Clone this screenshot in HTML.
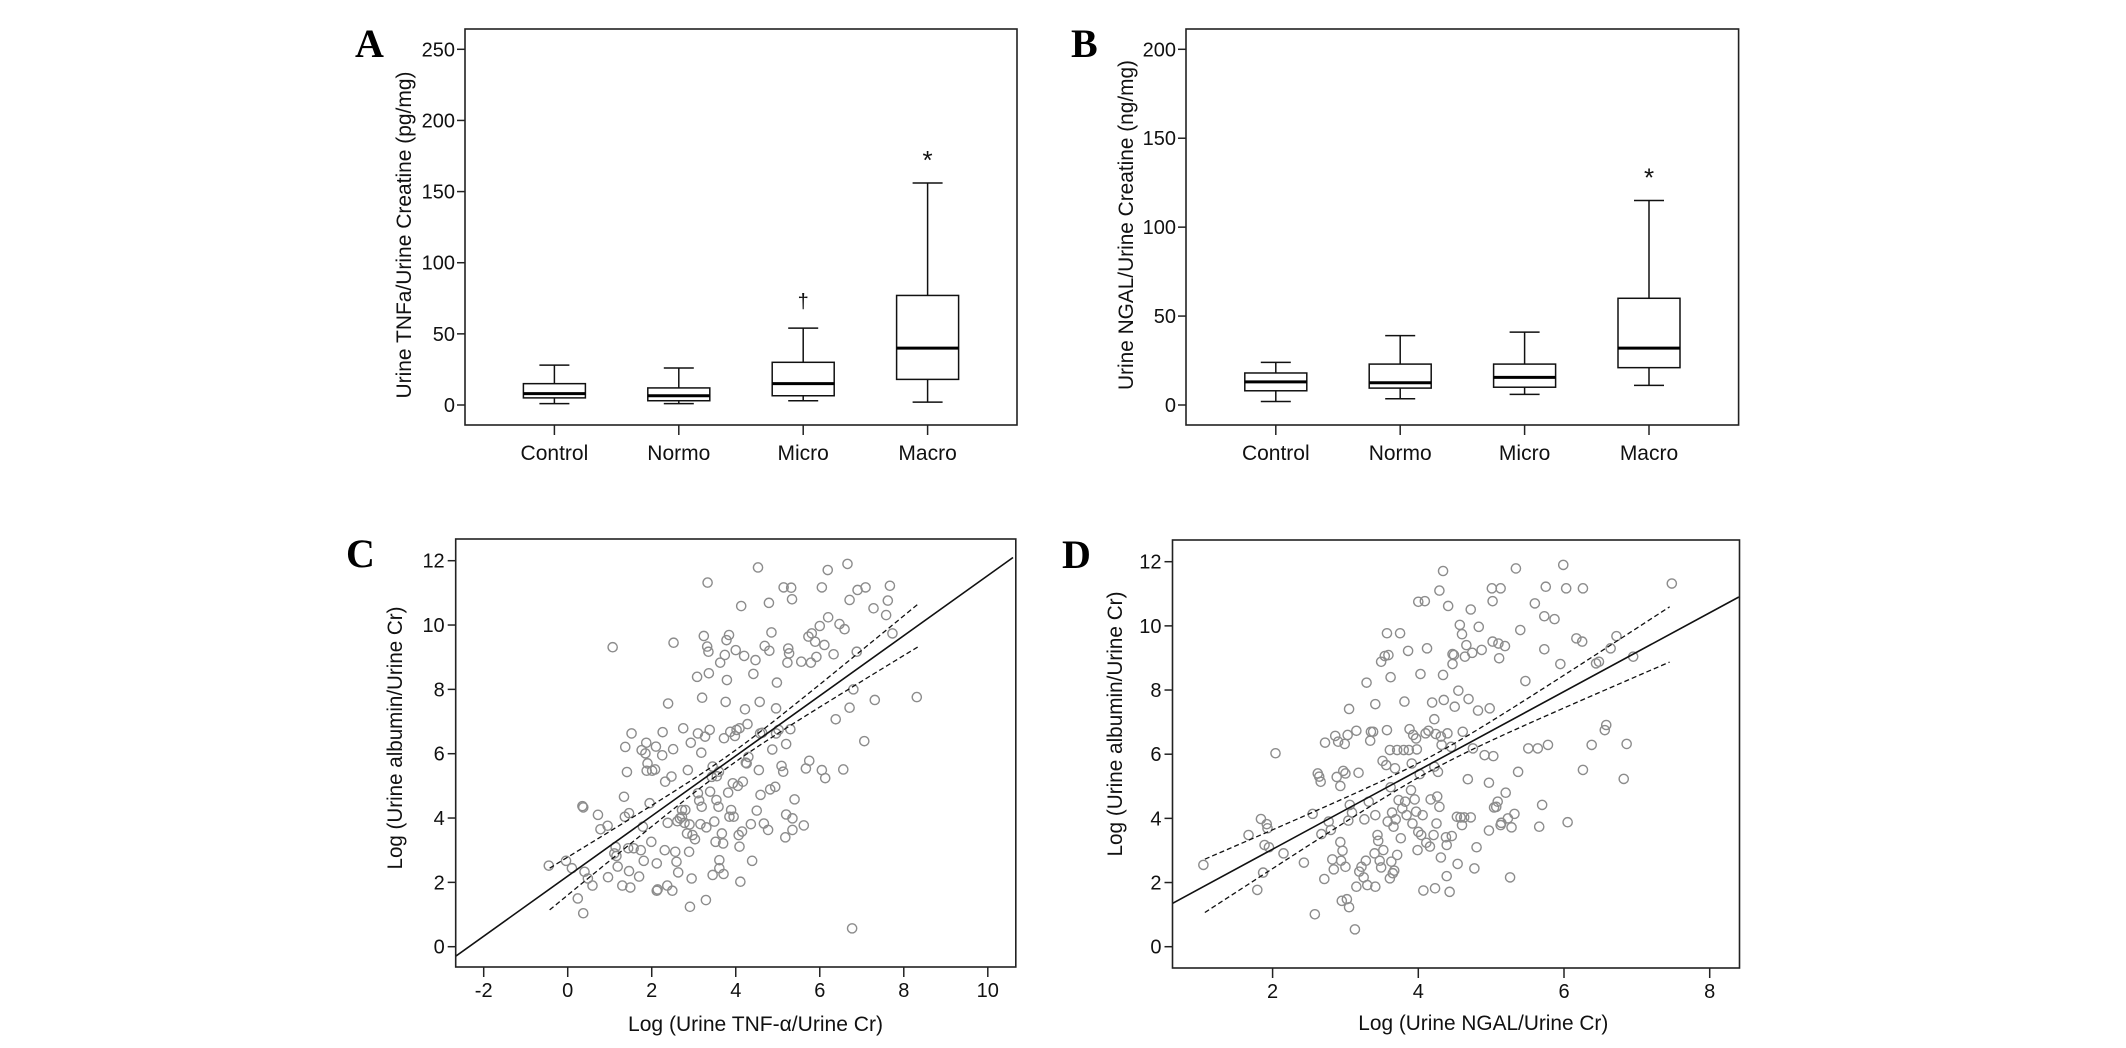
<!DOCTYPE html>
<html><head><meta charset="utf-8"><style>
html,body{margin:0;padding:0;background:#fff;}
svg{display:block;font-family:"Liberation Sans",Arial,sans-serif;}
</style></head><body>
<svg id="fig" width="2126" height="1048" viewBox="0 0 2126 1048" xmlns="http://www.w3.org/2000/svg"></svg>
<script>
// ---------- Data ----------
const boxCategories = ["Control","Normo","Micro","Macro"];
// Panel A: [lowWhisker, Q1, median, Q3, highWhisker]
const aLow = [1, 1, 3, 2];
const aQ1 = [5, 3, 6.5, 18];
const aMed = [8, 6.5, 15, 40];
const aQ3 = [15, 12, 30, 77];
const aHigh = [28, 26, 54, 156];
const aTicks = [0, 50, 100, 150, 200, 250];
// Panel B
const bLow = [2, 3.5, 6, 11];
const bQ1 = [8, 9.5, 10, 21];
const bMed = [13, 12.5, 15.5, 32];
const bQ3 = [18, 23, 23, 60];
const bHigh = [24, 39, 41, 115];
const bTicks = [0, 50, 100, 150, 200];

// Panel C scatter
const cX = [-0.45,-0.04,0.1,0.35,0.37,0.4,0.48,0.24,0.37,0.59,0.72,0.78,0.95,0.96,1.07,1.11,1.16,1.14,1.19,1.3,1.34,1.37,1.41,1.36,1.46,1.44,1.46,1.49,1.52,1.7,1.74,1.76,1.79,1.81,1.87,1.85,1.9,1.88,1.95,1.99,2.01,2.1,2.08,2.12,2.14,2.12,2.25,2.26,2.31,2.32,2.37,2.38,2.39,2.47,2.49,2.52,2.51,2.56,2.59,2.61,2.63,2.72,2.75,2.78,2.8,2.84,2.86,2.89,2.91,2.93,2.95,2.97,3.03,3.08,3.1,3.13,3.16,3.18,3.19,3.2,3.24,3.27,3.29,3.3,3.32,3.35,3.33,3.36,3.39,3.38,3.45,3.49,3.52,3.54,3.59,3.61,3.61,3.63,3.67,3.7,3.71,3.72,3.74,3.76,3.78,3.79,3.82,3.84,3.85,3.87,3.89,3.93,3.95,4.0,4.02,4.07,4.09,4.11,4.13,4.15,4.17,4.2,4.22,4.26,4.28,4.36,4.39,4.42,4.47,4.5,4.53,4.55,4.57,4.59,4.63,4.67,4.69,4.77,4.79,4.8,4.82,4.85,4.87,4.94,4.96,4.98,5.02,5.09,5.13,5.14,5.18,5.2,5.2,5.23,5.25,5.27,5.3,5.32,5.35,5.34,5.35,5.4,5.56,5.62,5.67,5.73,5.75,5.79,5.81,5.89,5.92,6.0,6.05,6.05,6.11,6.13,6.19,6.2,6.33,6.38,6.47,6.56,6.59,6.66,6.71,6.71,6.77,6.8,6.88,6.9,7.06,7.09,7.28,7.31,7.58,7.62,7.67,7.73,8.31,3.98,4.09,4.24,4.58,4.96,3.6,3.43,3.1,2.72,2.67,1.57,3.45,3.55,2.9,4.3,4.05];
const cY = [2.52,2.67,2.44,4.37,4.33,2.33,2.12,1.5,1.04,1.9,4.1,3.65,3.76,2.16,9.31,2.9,2.82,3.1,2.49,1.9,4.66,6.21,5.43,4.04,4.15,3.06,2.35,1.84,6.63,2.18,3.0,6.11,3.73,2.67,6.34,6.01,5.7,5.47,4.46,3.26,5.47,6.22,5.51,2.59,1.78,1.74,5.95,6.67,3.0,5.13,1.9,3.85,7.56,5.29,1.74,9.45,6.14,2.95,2.64,3.9,2.31,4.04,6.79,3.85,4.25,3.52,5.49,2.95,1.24,6.34,2.12,3.47,3.34,8.39,6.63,4.54,3.81,6.03,4.35,7.74,9.66,6.53,1.45,3.71,9.33,9.17,11.32,8.5,4.82,6.74,2.23,3.89,3.26,4.56,4.35,2.69,2.44,8.83,3.52,3.21,2.26,6.48,9.07,7.61,9.53,8.29,4.79,9.69,4.04,6.68,4.25,5.08,4.04,9.22,6.74,3.47,3.11,2.02,10.59,3.58,5.13,9.04,7.38,5.7,6.92,3.81,2.67,8.48,8.91,4.23,11.79,5.49,7.61,4.72,6.65,3.83,9.35,3.63,10.69,9.2,4.89,9.77,6.13,4.97,7.41,8.21,6.74,5.62,5.44,11.17,3.4,6.3,4.11,8.83,9.27,9.12,6.76,11.16,3.63,10.8,3.99,4.58,8.86,3.77,5.54,9.64,5.78,8.83,9.74,9.48,9.01,9.97,5.49,11.17,9.38,5.24,11.71,10.24,9.09,7.07,10.03,5.51,9.87,11.9,10.78,7.43,0.57,8.0,9.17,11.09,6.39,11.17,10.52,7.67,10.31,10.76,11.22,9.74,7.76,6.55,6.79,5.72,6.63,6.63,5.44,5.28,4.77,4.25,3.99,3.06,5.6,5.3,3.8,5.9,5.0];
const cXTicks = [-2, 0, 2, 4, 6, 8, 10];
const cYTicks = [0, 2, 4, 6, 8, 10, 12];
const cFit = [[-2.67, -0.3], [10.6, 12.1]];
// confidence band: [xStart, xEnd], centre x, min half-width, growth
const cBandRange = [-0.43, 8.33];
const cBandShape = [3.9, 0.18, 0.144];

// Panel D scatter
const dX = [1.05,1.67,1.84,1.92,1.93,1.89,1.95,1.87,1.79,2.04,2.15,2.43,2.55,2.58,2.62,2.64,2.66,2.67,2.71,2.72,2.77,2.8,2.82,2.84,2.86,2.88,2.9,2.93,2.93,2.94,2.95,2.96,2.97,2.99,3.0,3.0,3.02,3.03,3.04,3.05,3.05,3.06,3.09,3.13,3.15,3.15,3.18,3.19,3.22,3.25,3.26,3.28,3.29,3.3,3.32,3.34,3.35,3.38,3.4,3.41,3.41,3.41,3.44,3.45,3.47,3.49,3.49,3.51,3.52,3.54,3.56,3.57,3.57,3.58,3.59,3.61,3.61,3.62,3.62,3.63,3.64,3.65,3.66,3.67,3.68,3.69,3.71,3.71,3.73,3.75,3.76,3.78,3.8,3.81,3.82,3.84,3.86,3.87,3.88,3.9,3.91,3.92,3.93,3.95,3.97,3.97,3.98,3.99,4.0,4.0,4.02,4.03,4.04,4.06,4.07,4.09,4.1,4.11,4.12,4.14,4.16,4.17,4.19,4.21,4.22,4.22,4.23,4.24,4.25,4.26,4.27,4.29,4.29,4.31,4.31,4.32,4.34,4.34,4.35,4.38,4.39,4.39,4.4,4.41,4.43,4.45,4.46,4.47,4.47,4.49,4.5,4.53,4.54,4.55,4.57,4.58,4.6,4.6,4.61,4.63,4.64,4.66,4.68,4.69,4.72,4.72,4.74,4.75,4.77,4.8,4.82,4.83,4.87,4.91,4.97,4.97,4.98,5.01,5.02,5.02,5.03,5.04,5.07,5.09,5.1,5.11,5.13,5.13,5.14,5.19,5.2,5.23,5.26,5.28,5.32,5.34,5.37,5.4,5.47,5.51,5.6,5.64,5.66,5.7,5.73,5.73,5.75,5.78,5.87,5.95,5.99,6.03,6.05,6.17,6.25,6.26,6.26,6.38,6.44,6.48,6.56,6.58,6.64,6.72,6.82,6.86,6.95,7.48];
const dY = [2.55,3.48,3.98,3.82,3.69,3.17,3.1,2.31,1.77,6.03,2.91,2.62,4.14,1.01,5.4,5.3,5.14,3.51,2.11,6.36,3.9,3.64,2.72,2.41,6.57,5.29,6.39,5.01,3.26,2.68,1.43,2.99,5.48,6.32,5.4,2.49,1.48,6.6,3.93,7.41,1.23,4.42,4.18,0.54,6.73,1.87,5.42,2.34,2.49,2.16,3.97,2.68,8.23,1.92,4.52,6.42,6.7,6.7,2.91,4.1,7.56,1.87,3.48,3.3,2.68,2.47,8.88,5.79,3.01,9.06,5.66,9.77,6.75,3.9,9.09,2.13,6.13,8.4,4.97,2.65,4.18,2.29,3.74,2.37,5.56,3.97,6.13,2.86,4.57,9.77,3.38,4.31,6.13,7.64,4.52,4.1,9.22,6.13,6.78,4.88,5.71,3.84,6.6,4.59,6.49,4.21,6.15,3.01,3.58,10.75,5.38,8.5,3.48,4.1,1.75,10.77,6.65,3.24,9.3,6.73,3.12,4.59,7.61,3.48,7.09,5.61,1.82,6.63,3.84,4.68,5.45,4.36,11.1,2.78,6.55,6.29,11.71,8.47,7.69,3.41,3.17,2.2,6.65,10.62,1.71,6.23,3.45,8.81,9.12,9.09,7.48,4.05,2.58,7.98,10.03,4.03,3.79,9.74,6.7,4.03,9.04,9.4,5.22,7.72,4.03,10.51,9.16,6.18,2.44,3.1,7.36,9.97,9.25,5.97,3.62,5.11,7.43,11.17,10.77,9.51,5.94,4.34,4.36,4.52,9.45,8.99,11.17,3.79,3.86,9.37,4.8,4.0,2.16,3.72,4.14,11.79,5.45,9.87,8.28,6.18,10.7,6.18,3.74,4.42,10.3,9.27,11.22,6.29,10.21,8.81,11.9,11.17,3.88,9.61,9.51,11.17,5.51,6.29,8.83,8.88,6.75,6.91,9.3,9.68,5.23,6.32,9.04,11.32];
const dXTicks = [2, 4, 6, 8];
const dYTicks = [0, 2, 4, 6, 8, 10, 12];
const dFit = [[0.625, 1.35], [8.4, 10.9]];
const dBandRange = [1.07, 7.45];
const dBandShape = [4.2, 0.22, 0.256];

// ---------- Drawing ----------
const NS = "http://www.w3.org/2000/svg";
const svg = document.getElementById("fig");
function mk(tag, attrs, parent) {
  const e = document.createElementNS(NS, tag);
  for (const k in attrs) e.setAttribute(k, attrs[k]);
  (parent || svg).appendChild(e);
  return e;
}
function txt(s, attrs, parent) { const t = mk("text", attrs, parent); t.textContent = s; return t; }

function boxPanel(cfg) {
  const g = mk("g", {});
  
  
  const L = cfg.left, R = cfg.right, T = cfg.top, B = cfg.bottom;
  const y = v => cfg.y0 + (cfg.y1 - cfg.y0) * (v - cfg.v0) / (cfg.v1 - cfg.v0);
  const x = i => cfg.cx0 + i * cfg.cdx;
  const frame = mk("rect", {x: L, y: T, width: R - L, height: B - T, fill: "none", stroke: "#222", "stroke-width": 1.6}, g);
  
  
  cfg.ticks.forEach(t => {
    const tk = mk("line", {x1: L - 8, x2: L, y1: y(t), y2: y(t), stroke: "#222", "stroke-width": 1.5}, g);
    
    
    const lb = txt(String(t), {x: L - 10, y: y(t) + 7, "text-anchor": "end", "font-size": 20, fill: "#111"}, g);
    
    
  });
  boxCategories.forEach((c, i) => {
    const cx = x(i);
    const tk = mk("line", {x1: cx, x2: cx, y1: B, y2: B + 10, stroke: "#222", "stroke-width": 1.5}, g);
    
    
    const lb = txt(c, {x: cx, y: cfg.xlabY, "text-anchor": "middle", "font-size": 21, fill: "#111"}, g);
    
    
    const bg = mk("g", {}, g);
    
    
    const hw = 31, cw = 15;
    mk("line", {x1: cx, x2: cx, y1: y(cfg.high[i]), y2: y(cfg.q3[i]), stroke: "#111", "stroke-width": 1.5}, bg);
    mk("line", {x1: cx, x2: cx, y1: y(cfg.q1[i]), y2: y(cfg.low[i]), stroke: "#111", "stroke-width": 1.5}, bg);
    mk("line", {x1: cx - cw, x2: cx + cw, y1: y(cfg.high[i]), y2: y(cfg.high[i]), stroke: "#111", "stroke-width": 1.5}, bg);
    mk("line", {x1: cx - cw, x2: cx + cw, y1: y(cfg.low[i]), y2: y(cfg.low[i]), stroke: "#111", "stroke-width": 1.5}, bg);
    mk("rect", {x: cx - hw, y: y(cfg.q3[i]), width: 2 * hw, height: y(cfg.q1[i]) - y(cfg.q3[i]), fill: "#fff", stroke: "#111", "stroke-width": 1.5}, bg);
    mk("line", {x1: cx - hw, x2: cx + hw, y1: y(cfg.med[i]), y2: y(cfg.med[i]), stroke: "#000", "stroke-width": 3}, bg);
  });
  const yt = txt(cfg.ytitle, {x: 0, y: 0, transform: `translate(${cfg.ytX},${cfg.ytY}) rotate(-90)`, "text-anchor": "middle", "font-size": 21, fill: "#111", textLength: cfg.ytLen, lengthAdjust: "spacingAndGlyphs"}, g);
  
  
  const pl = txt(cfg.letter, {x: cfg.letX, y: cfg.letY, "font-family": "Liberation Serif, serif", "font-weight": "bold", "font-size": 40, fill: "#000"}, g);
  
  
  cfg.marks.forEach(m => {
    const mt = txt(m.s, {x: x(m.i), y: y(cfg.high[m.i]) - m.dy, "text-anchor": "middle", "font-size": m.size, fill: "#111"}, g);
    
    
  });
}

boxPanel({name: "panel-a-tnfa-boxplot", left: 465, right: 1017, top: 29, bottom: 425, v0: 0, v1: 250, y0: 405, y1: 49.3,
  cx0: 554.4, cdx: 124.4, low: aLow, q1: aQ1, med: aMed, q3: aQ3, high: aHigh, ticks: aTicks, xlabY: 460,
  ytitle: "Urine TNFa/Urine Creatine (pg/mg)", ytX: 411, ytY: 235, ytLen: 327, letter: "A", letX: 355, letY: 57,
  marks: [{i: 2, s: "†", dy: 20, size: 20}, {i: 3, s: "*", dy: 14, size: 26}]});
boxPanel({name: "panel-b-ngal-boxplot", left: 1186, right: 1738.6, top: 29, bottom: 425, v0: 0, v1: 200, y0: 405, y1: 49.3,
  cx0: 1275.8, cdx: 124.4, low: bLow, q1: bQ1, med: bMed, q3: bQ3, high: bHigh, ticks: bTicks, xlabY: 460,
  ytitle: "Urine NGAL/Urine Creatine (ng/mg)", ytX: 1133, ytY: 225, ytLen: 330, letter: "B", letX: 1071, letY: 57,
  marks: [{i: 3, s: "*", dy: 14, size: 26}]});

function scatterPanel(cfg) {
  const g = mk("g", {});
  
  
  const L = cfg.left, R = cfg.right, T = cfg.top, B = cfg.bottom;
  const sx = v => cfg.px0 + (cfg.px1 - cfg.px0) * (v - cfg.vx0) / (cfg.vx1 - cfg.vx0);
  const sy = v => cfg.py0 + (cfg.py1 - cfg.py0) * (v - cfg.vy0) / (cfg.vy1 - cfg.vy0);
  const clipId = cfg.name + "-clip";
  const cp = mk("clipPath", {id: clipId}, g);
  mk("rect", {x: L, y: T, width: R - L, height: B - T}, cp);
  const pts = mk("g", {}, g);
  
  
  cfg.xs.forEach((xv, i) => {
    const c = mk("circle", {cx: sx(xv), cy: sy(cfg.ys[i]), r: 4.6, fill: "none", stroke: "#8c8c8c", "stroke-width": 1.4}, pts);
    
    
  });
  const lines = mk("g", {"clip-path": `url(#${clipId})`}, g);
  const f0 = cfg.fit[0], f1 = cfg.fit[1];
  const slope = (f1[1] - f0[1]) / (f1[0] - f0[0]);
  const fitY = xv => f0[1] + slope * (xv - f0[0]);
  const fl = mk("line", {x1: sx(f0[0]), y1: sy(f0[1]), x2: sx(f1[0]), y2: sy(f1[1]), stroke: "#111", "stroke-width": 1.6}, lines);
  
  
  const [xm, w0, k] = cfg.bandShape;
  const halfW = xv => Math.sqrt(w0 * w0 + k * k * (xv - xm) * (xv - xm));
  [1, -1].forEach(sgn => {
    const n = 60, ptsArr = [];
    for (let j = 0; j <= n; j++) {
      const xv = cfg.bandRange[0] + (cfg.bandRange[1] - cfg.bandRange[0]) * j / n;
      ptsArr.push(sx(xv).toFixed(2) + "," + sy(fitY(xv) + sgn * halfW(xv)).toFixed(2));
    }
    const l = mk("polyline", {points: ptsArr.join(" "), fill: "none", stroke: "#111", "stroke-width": 1.3, "stroke-dasharray": "5,3"}, lines);
    
    
  });
  const frame = mk("rect", {x: L, y: T, width: R - L, height: B - T, fill: "none", stroke: "#222", "stroke-width": 1.6}, g);
  
  
  cfg.yticks.forEach(t => {
    const tk = mk("line", {x1: L - 8, x2: L, y1: sy(t), y2: sy(t), stroke: "#222", "stroke-width": 1.5}, g);
    
    
    const lb = txt(String(t), {x: L - 11, y: sy(t) + 7, "text-anchor": "end", "font-size": 20, fill: "#111"}, g);
    
    
  });
  cfg.xticks.forEach(t => {
    const tk = mk("line", {x1: sx(t), x2: sx(t), y1: B, y2: B + 10, stroke: "#222", "stroke-width": 1.5}, g);
    
    
    const lb = txt(String(t), {x: sx(t), y: B + 30, "text-anchor": "middle", "font-size": 20, fill: "#111"}, g);
    
    
  });
  const xt = txt(cfg.xtitle, {x: cfg.xtX, y: cfg.xtY, "text-anchor": "middle", "font-size": 21, fill: "#111", textLength: cfg.xtLen, lengthAdjust: "spacingAndGlyphs"}, g);
  
  
  const yt = txt(cfg.ytitle, {x: 0, y: 0, transform: `translate(${cfg.ytX},${cfg.ytY}) rotate(-90)`, "text-anchor": "middle", "font-size": 21, fill: "#111", textLength: cfg.ytLen, lengthAdjust: "spacingAndGlyphs"}, g);
  
  
  const pl = txt(cfg.letter, {x: cfg.letX, y: cfg.letY, "font-family": "Liberation Serif, serif", "font-weight": "bold", "font-size": 40, fill: "#000"}, g);
  
  
}

scatterPanel({name: "panel-c-tnfa-scatter", left: 455.7, right: 1015.8, top: 539, bottom: 967,
  vx0: -2, vx1: 10, px0: 483.7, px1: 987.8, vy0: 0, vy1: 12, py0: 946.7, py1: 560.7,
  xs: cX, ys: cY, fit: cFit, bandRange: cBandRange, bandShape: cBandShape, xticks: cXTicks, yticks: cYTicks,
  xtitle: "Log (Urine TNF-α/Urine Cr)", xtX: 755.5, xtY: 1031, xtLen: 255,
  ytitle: "Log (Urine albumin/Urine Cr)", ytX: 402, ytY: 738, ytLen: 263, letter: "C", letX: 346, letY: 567});
scatterPanel({name: "panel-d-ngal-scatter", left: 1172.5, right: 1739.5, top: 540, bottom: 968,
  vx0: 2, vx1: 8, px0: 1272.6, px1: 1709.7, vy0: 0, vy1: 12, py0: 946.7, py1: 561.7,
  xs: dX, ys: dY, fit: dFit, bandRange: dBandRange, bandShape: dBandShape, xticks: dXTicks, yticks: dYTicks,
  xtitle: "Log (Urine NGAL/Urine Cr)", xtX: 1483.3, xtY: 1030, xtLen: 250,
  ytitle: "Log (Urine albumin/Urine Cr)", ytX: 1122, ytY: 724, ytLen: 265, letter: "D", letX: 1062, letY: 568});
</script>
</body></html>
